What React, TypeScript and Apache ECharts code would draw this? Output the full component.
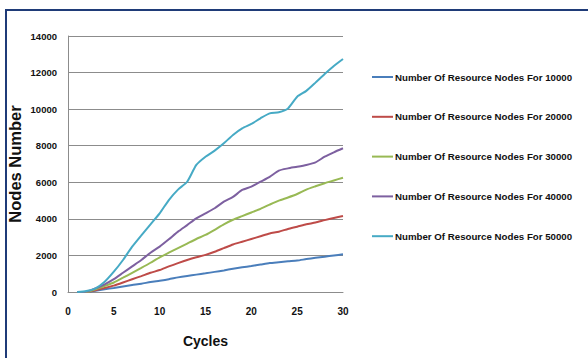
import React, { useEffect, useRef } from "react";
import * as echarts from "echarts";

const cycles = [1, 2, 3, 4, 5, 6, 7, 8, 9, 10, 11, 12, 13, 14, 15, 16, 17, 18, 19, 20, 21, 22, 23, 24, 25, 26, 27, 28, 29, 30];

const seriesNames = [
  "Number Of Resource Nodes For 10000",
  "Number Of Resource Nodes For 20000",
  "Number Of Resource Nodes For 30000",
  "Number Of Resource Nodes For 40000",
  "Number Of Resource Nodes For 50000",
];

const nodes10000 = [0, 0, 70, 150, 220, 300, 380, 450, 550, 620, 700, 800, 880, 950, 1020, 1100, 1180, 1270, 1350, 1420, 1500, 1580, 1630, 1680, 1720, 1800, 1870, 1930, 2000, 2060];
const nodes20000 = [0, 0, 100, 220, 350, 520, 700, 870, 1050, 1200, 1400, 1580, 1750, 1900, 2030, 2200, 2400, 2600, 2750, 2900, 3050, 3200, 3300, 3450, 3570, 3700, 3800, 3930, 4050, 4160];
const nodes30000 = [0, 0, 150, 330, 520, 780, 1050, 1320, 1600, 1900, 2150, 2400, 2650, 2900, 3120, 3400, 3700, 3950, 4150, 4350, 4550, 4780, 5000, 5170, 5360, 5600, 5780, 5950, 6100, 6250];
const nodes40000 = [0, 20, 200, 420, 700, 1050, 1400, 1750, 2150, 2480, 2880, 3300, 3660, 4030, 4300, 4580, 4940, 5200, 5580, 5760, 6030, 6300, 6640, 6760, 6850, 6950, 7090, 7400, 7640, 7860];
const nodes50000 = [0, 50, 200, 560, 1110, 1750, 2480, 3100, 3700, 4300, 5030, 5600, 6030, 6950, 7400, 7730, 8130, 8590, 8950, 9190, 9500, 9770, 9830, 10040, 10680, 11000, 11450, 11920, 12360, 12740];

const seriesValues = [nodes10000, nodes20000, nodes30000, nodes40000, nodes50000];
const colors = ["#4a7ebb", "#be4b48", "#98b954", "#7d60a0", "#46aac5"];

const yTicks = { min: 0, max: 14000, interval: 2000 };
const xTicks = { min: 0, max: 30, interval: 5 };

const FONT = "'Liberation Sans', Arial, sans-serif";

export default function App() {
  const ref = useRef<HTMLDivElement>(null);
  useEffect(() => {
    if (!ref.current) return;
    const chart = echarts.init(ref.current, undefined, { renderer: "svg" });
    chart.setOption({
      animation: false,
      backgroundColor: "#ffffff",
      grid: { left: 68, right: 245, top: 36, bottom: 66, containLabel: false },
      xAxis: {
        type: "value",
        min: xTicks.min,
        max: xTicks.max,
        interval: xTicks.interval,
        name: "Cycles",
        nameLocation: "middle",
        nameGap: 42,
        nameTextStyle: { fontFamily: FONT, fontWeight: "bold", fontSize: 14, color: "#111" },
        axisLine: { show: true, lineStyle: { color: "#8c8c8c", width: 1 } },
        axisTick: { show: false },
        splitLine: { show: false },
        axisLabel: { fontFamily: FONT, fontWeight: "bold", fontSize: 10, color: "#111", margin: 14 },
      },
      yAxis: {
        type: "value",
        min: yTicks.min,
        max: yTicks.max,
        interval: yTicks.interval,
        name: "Nodes Number",
        nameLocation: "middle",
        nameGap: 45,
        nameTextStyle: { fontFamily: FONT, fontWeight: "bold", fontSize: 16.5, color: "#111" },
        axisLine: { show: true, lineStyle: { color: "#8c8c8c", width: 1 } },
        axisTick: { show: false },
        splitLine: { show: true, lineStyle: { color: "#8c8c8c", width: 1 } },
        axisLabel: {
          fontFamily: FONT,
          fontWeight: "bold",
          fontSize: 9.5,
          color: "#111",
          margin: 11,
          formatter: (v: number) => String(v),
        },
      },
      legend: {
        orient: "vertical",
        left: 372,
        top: 72,
        padding: 0,
        icon: "rect",
        itemWidth: 21,
        itemHeight: 2,
        itemGap: 29.8,
        textStyle: { fontFamily: FONT, fontWeight: "bold", fontSize: 9.7, color: "#111", padding: [0, 0, 0, -3] },
        data: seriesNames,
      },
      graphic: [
        { type: "line", shape: { x1: 5, y1: 10, x2: 588, y2: 10 }, style: { stroke: "#1f3b78", lineWidth: 2 } },
        { type: "line", shape: { x1: 6, y1: 9, x2: 6, y2: 358 }, style: { stroke: "#1f3b78", lineWidth: 2 } },
      ],
      series: seriesNames.map((name, i) => ({
        name,
        type: "line",
        data: cycles.map((c, j) => [c, seriesValues[i][j]]),
        symbol: "none",
        smooth: 0.2,
        lineStyle: { color: colors[i], width: 2 },
        itemStyle: { color: colors[i] },
      })),
    });
    return () => chart.dispose();
  }, []);
  return <div ref={ref} style={{ width: 588, height: 358, position: "absolute", left: 0, top: 0 }} />;
}
